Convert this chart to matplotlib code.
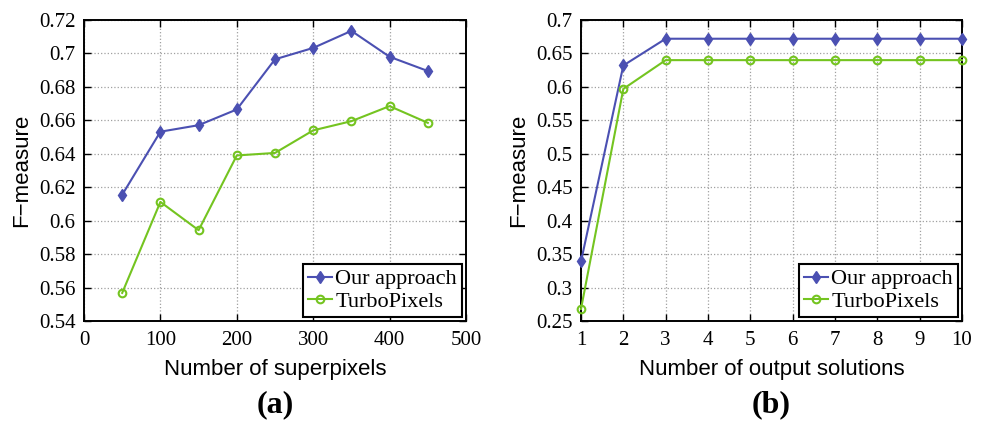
import numpy as np
import matplotlib
matplotlib.use('Agg')
import matplotlib.pyplot as plt

# panel (a): F-measure vs. number of superpixels
superpixels = [50, 100, 150, 200, 250, 300, 350, 400, 450]
ours_a = [0.6155, 0.6532, 0.6571, 0.6665, 0.6965, 0.7033, 0.7135, 0.6980, 0.6895]
turbo_a = [0.5568, 0.6112, 0.5943, 0.6390, 0.6405, 0.6540, 0.6595, 0.6685, 0.6585]

# panel (b): F-measure vs. number of output solutions
solutions = [1, 2, 3, 4, 5, 6, 7, 8, 9, 10]
ours_b = [0.339, 0.632, 0.672, 0.672, 0.672, 0.672, 0.672, 0.672, 0.672, 0.672]
turbo_b = [0.268, 0.597, 0.640, 0.640, 0.640, 0.640, 0.640, 0.640, 0.640, 0.640]

blue = '#4b50b2'
green = '#74c420'
serif = ['Liberation Serif', 'DejaVu Serif']
sans = ['Liberation Sans Narrow', 'Liberation Sans', 'DejaVu Sans']

fig = plt.figure(figsize=(9.85, 4.23), dpi=100)
ax1 = fig.add_axes([84/985, 1 - 321/423, 382/985, 301/423])
ax2 = fig.add_axes([581/985, 1 - 321/423, 381/985, 301/423])


def style(ax, xlabel):
    ax.grid(True, linestyle=':', color='#a0a0a0', linewidth=0.9)
    ax.tick_params(direction='in', top=True, right=True, length=5, width=1)
    ax.tick_params(axis='x', pad=7)
    ax.tick_params(axis='y', pad=6)
    for lab in ax.get_xticklabels() + ax.get_yticklabels():
        lab.set_family(serif)
        lab.set_fontsize(15)
    for s in ax.spines.values():
        s.set_linewidth(1.4)
    ax.set_xlabel(xlabel, family=sans, fontsize=16, labelpad=7)
    ax.set_ylabel('F\u2212measure', family=sans, fontsize=16, labelpad=5)
    leg = ax.legend(loc='lower right', fancybox=False, framealpha=1,
                    edgecolor='black', prop={'family': serif, 'size': 16},
                    handlelength=1.1, handletextpad=0.15, borderpad=0.2,
                    labelspacing=0.1, borderaxespad=0.2)
    leg.get_frame().set_linewidth(1.5)


ax1.plot(superpixels, ours_a, color=blue, lw=1.5, marker='d', ms=6, label='Our approach')
ax1.plot(superpixels, turbo_a, color=green, lw=1.5, marker='o', ms=5.5,
         mfc='none', mew=1.5, label='TurboPixels')
ax1.set_xlim(0, 500)
ax1.set_ylim(0.54, 0.72)
ax1.set_xticks(np.arange(0, 501, 100))
ax1.set_yticks(np.arange(0.54, 0.7201, 0.02))
ax1.set_yticklabels(['0.54', '0.56', '0.58', '0.6', '0.62', '0.64', '0.66',
                     '0.68', '0.7', '0.72'])
style(ax1, 'Number of superpixels')

ax2.plot(solutions, ours_b, color=blue, lw=1.5, marker='d', ms=6, label='Our approach',
         clip_on=False, zorder=3)
ax2.plot(solutions, turbo_b, color=green, lw=1.5, marker='o', ms=5.5,
         mfc='none', mew=1.5, label='TurboPixels', clip_on=False, zorder=3)
ax2.set_xlim(1, 10)
ax2.set_ylim(0.25, 0.7)
ax2.set_xticks(solutions)
ax2.set_yticks(np.arange(0.25, 0.7001, 0.05))
ax2.set_yticklabels(['0.25', '0.3', '0.35', '0.4', '0.45', '0.5', '0.55',
                     '0.6', '0.65', '0.7'])
style(ax2, 'Number of output solutions')

fig.text((84 + 466) / 2 / 985, 1 - 405/423, '(a)', family=serif, fontsize=23,
         fontweight='bold', ha='center', va='center')
fig.text((581 + 962) / 2 / 985, 1 - 405/423, '(b)', family=serif, fontsize=23,
         fontweight='bold', ha='center', va='center')

fig.savefig('out.png', dpi=100)
